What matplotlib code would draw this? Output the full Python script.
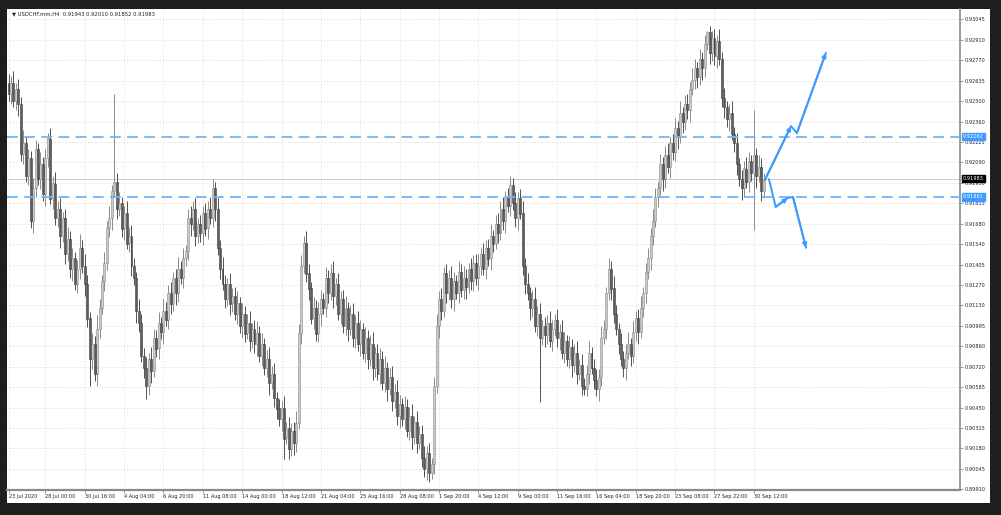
import numpy as np
import matplotlib.pyplot as plt

first_open = 262
closes = [
    255, 262, 250, 258, 248, 215, 222, 200, 212, 170,
    192, 218, 198, 208, 188, 212, 225, 185, 195, 172,
    178, 160, 172, 148, 158, 138, 145, 128, 138, 152,
    140, 128, 105, 78, 88, 68, 98, 112, 130, 142,
    165, 172, 190, 196, 178, 182, 165, 175, 155, 160,
    140, 132, 110, 102, 80, 72, 60, 78, 70, 92,
    85, 102, 96, 110, 104, 122, 115, 132, 122, 138,
    132, 145, 150, 172, 168, 178, 160, 168, 162, 175,
    165, 178, 172, 192, 178, 152, 138, 128, 118, 128,
    115, 120, 108, 115, 100, 108, 95, 102, 90, 98,
    88, 95, 80, 88, 72, 78, 62, 68, 52, 45,
    38, 45, 25, 32, 18, 30, 22, 35, 95, 140,
    155, 135, 125, 105, 112, 95, 108, 118, 112, 132,
    122, 135, 120, 128, 108, 118, 100, 112, 98, 108,
    92, 102, 88, 98, 82, 92, 78, 88, 72, 82,
    68, 78, 62, 72, 58, 66, 50, 56, 40, 48,
    38, 46, 30, 40, 26, 36, 22, 28, 12, 5,
    15, 2, 8, 60, 100, 118, 110, 135, 122, 132,
    118, 130, 122, 136, 124, 132, 126, 138, 130, 142,
    132, 140, 148, 138, 152, 145, 160, 155, 168, 162,
    178, 170, 186, 180, 194, 182, 172, 185, 175, 140,
    128, 122, 112, 118, 100, 108, 92, 100, 94, 102,
    90, 98, 104, 92, 96, 82, 90, 78, 86, 74,
    82, 68, 74, 60, 58, 68, 82, 72, 64, 58,
    66, 92, 98, 122, 138, 125, 108, 98, 88, 78,
    72, 82, 88, 80, 96, 105, 96, 112, 122, 136,
    145, 160, 170, 186, 192, 208, 198, 214, 206, 222,
    216, 232, 226, 242, 236, 248, 244, 258, 264, 272,
    266, 278, 272, 288, 296, 282, 292, 280, 290, 278,
    252, 246, 238, 242, 228, 222, 208, 198, 192, 205,
    196, 210, 202, 214, 200, 206, 190, 198,
]
upper_wick = [
    6, 5, 8, 4, 7, 5, 9, 4, 6, 5,
    7, 6, 4, 8, 5, 6, 4, 7, 5, 8,
    5, 7, 4, 6, 8, 5, 7, 4, 6, 9,
    5, 8, 6, 4, 7, 5, 9, 6, 4, 7,
    5, 8, 4, 59, 6, 7, 4, 5, 8, 6,
    7, 5, 4, 8, 6, 5, 7, 4, 8, 6,
    5, 7, 4, 8, 6, 5, 7, 4, 6, 8,
    5, 7, 4, 6, 8, 5, 7, 4, 6, 5,
    7, 5, 8, 6, 4, 7, 5, 8, 6, 4,
    7, 5, 6, 8, 4, 7, 5, 6, 8, 4,
    6, 8, 5, 7, 4, 6, 8, 5, 7, 4,
    6, 5, 8, 4, 7, 5, 6, 8, 6, 7,
    5, 8, 6, 4, 7, 5, 8, 6, 4, 7,
    5, 6, 8, 4, 7, 5, 6, 8, 4, 6,
    7, 5, 8, 6, 4, 7, 5, 6, 8, 4,
    6, 7, 5, 8, 4, 6, 7, 5, 8, 6,
    4, 7, 5, 6, 8, 4, 7, 5, 6, 8,
    5, 7, 4, 6, 8, 5, 7, 4, 6, 5,
    8, 6, 4, 7, 5, 8, 6, 4, 7, 5,
    6, 8, 4, 7, 5, 6, 8, 4, 6, 7,
    5, 8, 4, 6, 6, 5, 7, 4, 6, 8,
    5, 7, 4, 6, 8, 5, 7, 4, 6, 5,
    8, 6, 4, 7, 5, 8, 6, 4, 7, 5,
    6, 8, 4, 7, 5, 6, 8, 4, 6, 7,
    5, 8, 6, 4, 7, 5, 8, 6, 4, 7,
    5, 6, 8, 4, 7, 5, 6, 8, 4, 6,
    7, 5, 8, 6, 4, 7, 5, 6, 8, 4,
    6, 7, 5, 8, 4, 6, 7, 5, 8, 6,
    4, 7, 5, 6, 1, 4, 5, 6, 4, 8,
    5, 7, 4, 6, 8, 5, 7, 4, 6, 5,
    8, 6, 4, 30, 5, 8, 6, 4,
]
lower_wick = [
    5, 7, 4, 6, 8, 5, 7, 4, 6, 5,
    8, 6, 4, 7, 5, 8, 6, 4, 7, 5,
    6, 8, 4, 7, 5, 6, 8, 4, 6, 7,
    5, 8, 6, 18, 7, 5, 8, 6, 4, 7,
    5, 6, 8, 4, 7, 5, 6, 8, 4, 6,
    7, 5, 8, 6, 4, 7, 9, 6, 8, 4,
    6, 7, 5, 8, 4, 6, 7, 5, 8, 6,
    4, 7, 5, 6, 8, 4, 7, 5, 6, 8,
    5, 7, 4, 6, 8, 5, 7, 4, 6, 5,
    8, 6, 4, 7, 5, 8, 6, 4, 7, 5,
    6, 8, 4, 7, 5, 6, 8, 4, 6, 7,
    5, 8, 14, 4, 7, 5, 8, 6, 4, 7,
    5, 6, 8, 4, 7, 5, 6, 8, 4, 6,
    7, 5, 8, 6, 4, 7, 5, 6, 8, 4,
    6, 7, 5, 8, 4, 6, 7, 5, 8, 6,
    4, 7, 5, 6, 8, 4, 7, 5, 6, 8,
    5, 7, 4, 6, 8, 5, 7, 4, 6, 6,
    8, 6, 4, 7, 5, 8, 6, 4, 7, 5,
    6, 8, 4, 7, 5, 6, 8, 4, 6, 7,
    5, 8, 6, 4, 7, 5, 8, 6, 4, 7,
    5, 6, 8, 4, 7, 5, 6, 8, 4, 6,
    7, 5, 8, 6, 4, 7, 43, 5, 8, 6,
    4, 7, 5, 6, 8, 4, 7, 5, 6, 8,
    5, 7, 4, 6, 4, 5, 7, 4, 6, 5,
    8, 6, 4, 7, 5, 8, 6, 4, 7, 5,
    6, 8, 4, 7, 5, 6, 8, 4, 6, 7,
    5, 8, 6, 4, 7, 5, 8, 6, 4, 7,
    5, 6, 8, 4, 7, 5, 6, 8, 4, 6,
    7, 5, 8, 6, 4, 7, 5, 6, 8, 4,
    6, 7, 5, 8, 4, 6, 7, 5, 8, 6,
    4, 7, 5, 38, 8, 4, 7, 5,
]

date_labels = ["23 Jul 2020", "28 Jul 00:00", "30 Jul 16:00", "4 Aug 04:00",
               "6 Aug 20:00", "11 Aug 08:00", "14 Aug 00:00", "18 Aug 12:00",
               "21 Aug 04:00", "25 Aug 16:00", "28 Aug 08:00", "1 Sep 20:00",
               "4 Sep 12:00", "9 Sep 00:00", "11 Sep 16:00", "16 Sep 04:00",
               "18 Sep 20:00", "23 Sep 08:00", "27 Sep 22:00", "30 Sep 12:00"]
date_bars = [0] + [15 + 16 * k for k in range(19)]

price_labels = ["0.89910", "0.90045", "0.90180", "0.90315", "0.90450", "0.90585",
                "0.90720", "0.90860", "0.90995", "0.91130", "0.91270", "0.91405",
                "0.91540", "0.91680", "0.91815", "0.91950", "0.92090", "0.92225",
                "0.92360", "0.92500", "0.92635", "0.92770", "0.92910", "0.93045"]

last_price = 0.91983
levels = [0.92262, 0.91861]

# hand drawn forecast arrows (bar index, price)
up_x = [307.5, 318.1, 320.5, 332.3]
up_y = [0.91974, 0.92333, 0.92287, 0.92822]
down_x = [309.1, 311.9, 316.8, 318.9, 324.2]
down_y = [0.91980, 0.91794, 0.91854, 0.91860, 0.91521]

W, H = 1001, 515
fig = plt.figure(figsize=(W / 100, H / 100), dpi=100, facecolor="#1e1e1e")

# white chart window
back = fig.add_axes([7 / W, (H - 503) / H, 983 / W, 494 / H])
back.set_facecolor("white")
back.set_xticks([])
back.set_yticks([])
for s in back.spines.values():
    s.set_visible(False)

ax = fig.add_axes([7 / W, (H - 490) / H, 953 / W, 481 / H])
ax.set_facecolor("white")

c = np.array(closes, dtype=float)
o = np.array([first_open] + closes[:-1], dtype=float)
hi = np.maximum(o, c) + np.array(upper_wick)
lo = np.minimum(o, c) - np.array(lower_wick)
o, c, hi, lo = 0.9 + o / 1e4, 0.9 + c / 1e4, 0.9 + hi / 1e4, 0.9 + lo / 1e4
x = np.arange(len(c))
up = c >= o

ax.vlines(x[up], lo[up], hi[up], color="#8a8a8a", lw=0.7, zorder=3)
ax.vlines(x[~up], lo[~up], hi[~up], color="#505050", lw=0.7, zorder=3)
ax.bar(x[up], (c - o)[up] + 0.00002, bottom=o[up], width=0.8,
       color="#cbcbcb", edgecolor="#8a8a8a", lw=0.4, zorder=4)
ax.bar(x[~up], (c - o)[~up] - 0.00002, bottom=o[~up], width=0.8,
       color="#5c5c5c", edgecolor="#404040", lw=0.4, zorder=4)

ax.set_xlim(-0.61, 386.8)
ax.set_ylim(0.899055, 0.93114)

yt = np.linspace(0.89910, 0.93045, len(price_labels))
ax.yaxis.tick_right()
ax.set_yticks(yt)
ax.set_yticklabels(price_labels)
ax.set_xticks(date_bars)
ax.set_xticklabels(date_labels, ha="left")
ax.tick_params(axis="both", labelsize=3.6, length=2, width=0.5, colors="#6e6e6e",
               labelcolor="#1e1e3c", pad=1)
ax.grid(True, color="#cfcfcf", lw=0.5, ls=(0, (1.5, 2.5)))
ax.set_axisbelow(True)
for s in ["top", "left"]:
    ax.spines[s].set_visible(False)
ax.spines["right"].set_color("#8a8a8a")
ax.spines["right"].set_linewidth(1.2)
ax.spines["bottom"].set_color("#8a8a8a")
ax.spines["bottom"].set_linewidth(1.6)

ax.axhline(last_price, color="#c4c4c4", lw=0.6, zorder=2)
for lv in levels:
    ax.axhline(lv, color="#6fb4ff", lw=1.3, dashes=(6, 3.5), zorder=5)

blue = "#3d9bff"
ax.plot(up_x, up_y, color=blue, lw=1.4, zorder=6, solid_capstyle="round")
ax.plot(down_x, down_y, color=blue, lw=1.4, zorder=6, solid_capstyle="round")
heads = [(up_x, up_y, 1), (up_x, up_y, 3), (down_x, down_y, 2), (down_x, down_y, 4)]
for hx, hy, k in heads:
    ax.annotate("", xy=(hx[k], hy[k]), xytext=(hx[k - 1], hy[k - 1]),
                arrowprops=dict(arrowstyle="-|>", color=blue, lw=1.4,
                                mutation_scale=6, shrinkA=0, shrinkB=0), zorder=6)

# price tags on the right axis
tr = ax.get_yaxis_transform()
ax.text(1.003, last_price, "0.91983", transform=tr, fontsize=3.6, color="white",
        va="center", ha="left", zorder=10, clip_on=False,
        bbox=dict(boxstyle="square,pad=0.25", fc="black", ec="black"))
for lv, lab in zip(levels, ["0.92262", "0.91861"]):
    ax.text(1.003, lv, lab, transform=tr, fontsize=3.6, color="white",
            va="center", ha="left", zorder=10, clip_on=False,
            bbox=dict(boxstyle="square,pad=0.25", fc=blue, ec=blue))

fig.text(12 / W, 1 - 14 / H, "\u25bc USDCHF.mm,H4  0.91943 0.92010 0.91852 0.91983",
         fontsize=3.8, color="#1e1e3c", va="center", ha="left")

fig.savefig("out.png", dpi=100, facecolor=fig.get_facecolor())
